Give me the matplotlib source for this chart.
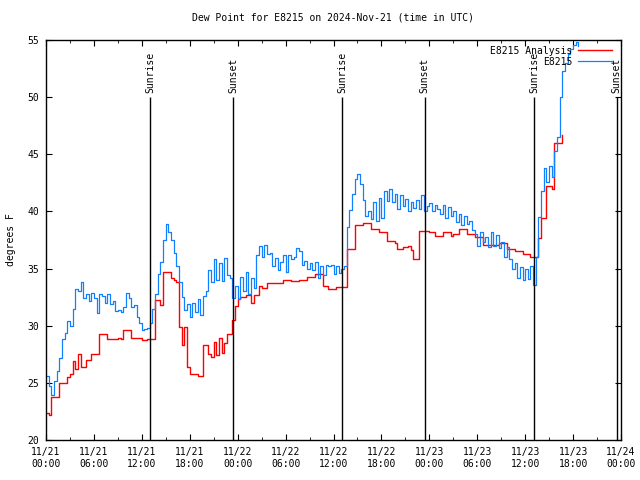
import pandas as pd
import matplotlib
matplotlib.use("Agg")
import matplotlib.pyplot as plt
import matplotlib.dates as mdates

# 20 minute samples starting 2024-11-21 00:00 UTC
start = "2024-11-21 00:00"

# station E8215 dew point (F)
obs = [
    25.6, 24.7, 23.9,  25.2, 26.0, 27.2,  28.8, 29.4, 30.4,  30.0, 31.5, 33.2,
    33.0, 33.8, 32.4,  32.8, 32.2, 32.9,  32.4, 31.1, 32.8,  32.6, 32.0, 32.8,
    31.9, 32.2, 31.3,  31.4, 31.2, 31.6,  32.9, 32.4, 31.6,  31.8, 30.8, 30.2,
    29.6, 29.7, 29.8,  30.2, 31.5, 32.8,  34.5, 35.6, 37.5,  38.9, 38.2, 37.5,
    36.4, 35.2, 33.8,  32.5, 31.4, 31.9,  30.8, 32.0, 31.2,  32.3, 30.9, 32.6,
    33.0, 34.9, 33.8,  35.8, 34.0, 35.5,  33.9, 35.9, 34.4,  34.2, 32.4, 33.5,
    32.3, 34.3, 33.0,  34.7, 32.8, 34.2,  33.3, 36.2, 37.0,  36.0, 37.1, 36.3,
    36.4, 35.2, 35.9,  34.9, 35.6, 36.2,  34.7, 36.2, 35.8,  36.0, 36.8, 36.5,
    35.3, 35.7, 35.0,  35.5, 34.9, 35.6,  34.2, 35.2, 34.4,  35.3, 35.2, 35.3,
    34.5, 35.2, 34.6,  35.0, 35.2, 38.6,  40.1, 41.5, 42.8,  43.3, 42.4, 41.0,
    39.6, 40.0, 39.3,  40.8, 39.2, 41.2,  39.4, 41.8, 40.9,  42.0, 40.8, 41.5,
    40.2, 41.4, 40.5,  41.1, 40.0, 40.8,  40.3, 41.0, 40.2,  41.4, 40.0, 40.5,
    40.7, 40.0, 40.6,  40.2, 39.8, 40.6,  39.4, 40.4, 39.6,  40.0, 39.1, 39.8,
    38.8, 39.6, 38.9,  39.2, 38.4, 38.0,  37.0, 38.2, 37.3,  37.8, 36.9, 38.2,
    37.0, 37.9, 36.8,  37.3, 36.0, 36.9,  35.8, 35.0, 35.5,  34.2, 35.1, 34.0,
    35.0, 34.1, 35.2,  33.6, 36.0, 39.5,  41.8, 43.8, 42.6,  44.0, 43.0, 45.3,
    46.5, 50.0, 52.3,  53.0, 53.8, 54.2,  54.6, 54.8, 54.5,
]

# analysis dew point (F)
ana = [
    22.4, 22.2, 23.8,  23.8, 23.8, 25.0,  25.0, 25.0, 25.5,  25.8, 26.9, 26.2,
    27.5, 26.4, 26.4,  27.0, 27.0, 27.5,  27.5, 27.5, 29.3,  29.3, 29.3, 28.8,
    28.8, 28.8, 28.8,  28.9, 28.8, 29.6,  29.6, 29.6, 28.9,  28.9, 28.9, 28.9,
    28.75, 28.75, 28.8, 28.8, 28.8, 32.25, 32.25, 31.8, 34.7, 34.7, 34.7, 34.2,
    34.0, 33.8, 29.9,  28.3, 29.9, 26.4,  25.8, 25.8, 25.8,  25.6, 25.6, 28.3,
    28.3, 27.5, 27.3,  28.6, 27.4, 28.9,  27.6, 28.5, 29.3,  29.3, 30.5, 31.7,
    32.3, 32.5, 32.5,  32.7, 32.7, 32.0,  32.7, 32.7, 33.5,  33.3, 33.3, 33.7,
    33.7, 33.7, 33.7,  33.7, 33.7, 34.0,  34.0, 34.0, 33.9,  33.9, 33.9, 34.0,
    34.0, 34.0, 34.3,  34.3, 34.3, 34.5,  34.5, 34.5, 33.5,  33.5, 33.2, 33.2,
    33.2, 33.4, 33.4,  33.4, 33.4, 36.7,  36.7, 36.7, 38.8,  38.8, 38.8, 39.0,
    39.0, 39.0, 38.5,  38.5, 38.5, 38.2,  38.2, 38.2, 37.4,  37.4, 37.4, 37.2,
    36.7, 36.7, 36.9,  36.9, 37.0, 36.6,  35.8, 35.8, 38.3,  38.3, 38.3, 38.3,
    38.2, 38.2, 37.85, 37.85, 37.85, 38.2, 38.2, 38.2, 37.85, 38.0, 38.0, 38.5,
    38.5, 38.5, 38.0,  38.0, 38.0, 37.8,  37.8, 37.8, 37.1,  37.1, 37.1, 37.1,
    37.1, 37.1, 37.2,  37.2, 37.2, 36.7,  36.7, 36.7, 36.5,  36.5, 36.5, 36.3,
    36.3, 36.3, 36.0,  36.0, 36.0, 37.65, 39.4, 39.4, 42.25, 42.25, 42.0, 46.0,
    46.0, 46.0, 46.7,
]

sun_times = ["2024-11-21 13:05", "2024-11-21 23:28", "2024-11-22 13:06",
             "2024-11-22 23:26", "2024-11-23 13:07", "2024-11-23 23:28"]
sun_names = ["Sunrise", "Sunset", "Sunrise", "Sunset", "Sunrise", "Sunset"]

t_obs = pd.date_range(start, periods=len(obs), freq="20min")
t_ana = pd.date_range(start, periods=len(ana), freq="20min")

plt.rcParams["font.family"] = "DejaVu Sans Mono"
plt.rcParams["font.size"] = 7

fig = plt.figure(figsize=(6.4, 4.8), dpi=100)
ax = fig.add_axes([46 / 640, 40 / 480, 575 / 640, 400 / 480])

ax.plot(t_ana, ana, color="#ff0000", lw=1.0, drawstyle="steps-post", label="E8215 Analysis")
ax.plot(t_obs, obs, color="#1080ff", lw=0.9, drawstyle="steps-post", label="E8215")

for t, name in zip(sun_times, sun_names):
    tt = pd.Timestamp(t)
    ax.vlines(tt, 20, 50, color="black", lw=1)
    ax.text(tt, 50.4, name, rotation=90, ha="center", va="bottom")

ax.set_xlim(pd.Timestamp("2024-11-21 00:00"), pd.Timestamp("2024-11-24 00:00"))
ax.set_ylim(20, 55)
ax.set_yticks(range(20, 56, 5))
ax.xaxis.set_major_locator(mdates.HourLocator(byhour=[0, 6, 12, 18]))
ax.xaxis.set_minor_locator(mdates.HourLocator(byhour=range(0, 24, 3)))
ax.xaxis.set_major_formatter(mdates.DateFormatter("%m/%d\n%H:%M"))
ax.tick_params(which="both", direction="in", top=True, right=True)
ax.tick_params(which="major", length=4.5, pad=5)
ax.tick_params(which="minor", length=2.5)
for s in ax.spines.values():
    s.set_linewidth(1)

ax.set_ylabel("degrees F", labelpad=8)
ax.set_title("Dew Point for E8215 on 2024-Nov-21 (time in UTC)", fontsize=7, pad=14)
ax.legend(loc="upper right", frameon=False, markerfirst=False, handlelength=3.5,
          borderaxespad=0.2, labelspacing=0.1, handletextpad=0.6,
          bbox_to_anchor=(0.995, 1.0))

fig.savefig("out.png", dpi=100)
